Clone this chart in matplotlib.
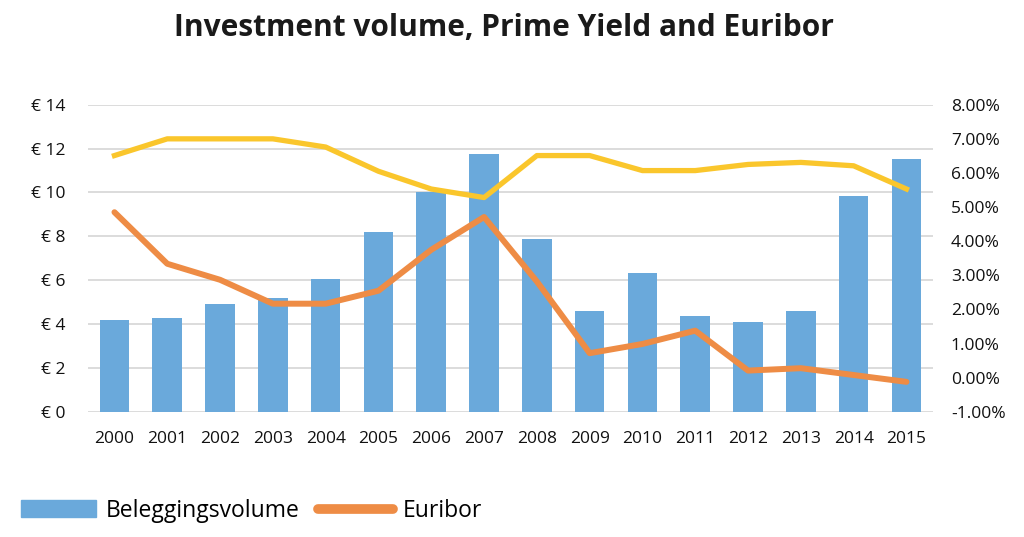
import matplotlib
matplotlib.use('Agg')
import matplotlib.pyplot as plt
from matplotlib.patches import Patch
from matplotlib.lines import Line2D
from matplotlib import font_manager

# Data
years = ['2000', '2001', '2002', '2003', '2004', '2005', '2006', '2007',
         '2008', '2009', '2010', '2011', '2012', '2013', '2014', '2015']
volume = [4.2, 4.29, 4.91, 5.21, 6.05, 8.19, 10.0, 11.75,
          7.86, 4.62, 6.35, 4.36, 4.1, 4.6, 9.86, 11.54]
prime_yield = [6.51, 7.0, 7.0, 7.0, 6.76, 6.05, 5.53, 5.28,
               6.51, 6.51, 6.07, 6.07, 6.25, 6.31, 6.21, 5.53]
euribor = [4.85, 3.34, 2.87, 2.17, 2.17, 2.55, 3.75, 4.71,
           2.82, 0.72, 0.99, 1.38, 0.21, 0.28, 0.08, -0.12]
left_ticks = [0, 2, 4, 6, 8, 10, 12, 14]
right_ticks = [-1, 0, 1, 2, 3, 4, 5, 6, 7, 8]

names = {f.name for f in font_manager.fontManager.ttflist}
fam = 'Liberation Sans Narrow' if 'Liberation Sans Narrow' in names else 'Open Sans'
plt.rcParams['font.family'] = [fam, 'DejaVu Sans']

BLUE = '#6aa9db'
ORANGE = '#ee8c45'
YELLOW = '#fac62c'
GRID = '#d9d9d9'

fig = plt.figure(figsize=(10.24, 5.37), dpi=100)
ax = fig.add_axes([0.086, 0.233, 0.825, 0.572])
x = list(range(len(years)))
ax.bar(x, volume, width=0.56, color=BLUE, zorder=2)
ax.set_ylim(0, 14)
ax.set_xlim(-0.5, len(years) - 0.5)
ax.set_yticks(left_ticks)
ax.set_yticklabels(['€ %d' % v for v in left_ticks])
ax.set_xticks(x)
ax.set_xticklabels(years)
ax.grid(axis='y', color=GRID, linewidth=1.3, zorder=0)
for s in ax.spines.values():
    s.set_visible(False)
ax.tick_params(axis='both', length=0, labelsize=12.5, colors='#111111')
ax.tick_params(axis='y', pad=16)
ax.tick_params(axis='x', pad=14)

ax2 = ax.twinx()
ax2.plot(x, prime_yield, color=YELLOW, linewidth=3.8, solid_joinstyle='round', zorder=3)
ax2.plot(x, euribor, color=ORANGE, linewidth=4.3, solid_joinstyle='round',
         solid_capstyle='round', zorder=4)
ax2.set_ylim(-1, 8)
ax2.set_yticks(right_ticks)
ax2.set_yticklabels(['%.2f%%' % v for v in right_ticks])
for s in ax2.spines.values():
    s.set_visible(False)
ax2.tick_params(axis='y', length=0, labelsize=12.5, colors='#111111', pad=13)

fig.text(0.492, 0.947, 'Investment volume, Prime Yield and Euribor',
         ha='center', va='center', fontsize=21.5, fontweight='bold', color='#1a1a1a')

handles = [Patch(color=BLUE),
           Line2D([0], [0], color=ORANGE, linewidth=7, solid_capstyle='round')]
fig.legend(handles, ['Beleggingsvolume', 'Euribor'], loc='lower left',
           bbox_to_anchor=(0.0, -0.012), ncol=2, frameon=False, fontsize=16.5,
           handlelength=3.3, handleheight=0.75, handletextpad=0.4, columnspacing=0.8)

fig.savefig('out.png', dpi=100)
